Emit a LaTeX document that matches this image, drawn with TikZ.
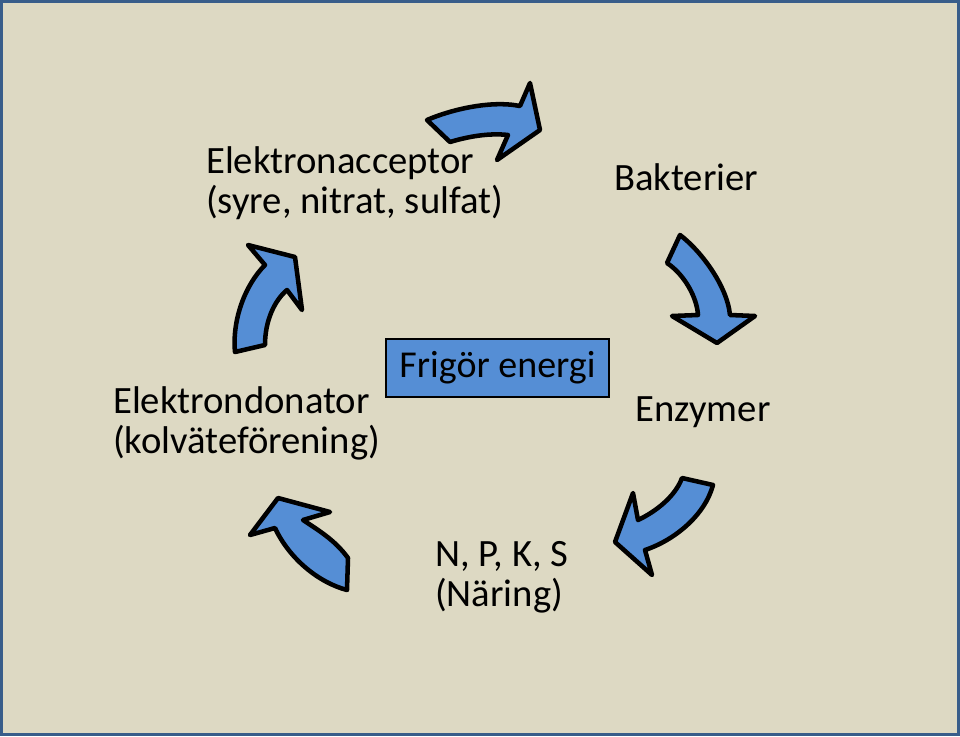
\documentclass[tikz,border=0pt]{standalone}
\usepackage{fontspec}
\setmainfont{Carlito}
\usetikzlibrary{positioning}
\definecolor{slidebg}{HTML}{DDD9C3}
\definecolor{slideframe}{HTML}{385D8A}
\definecolor{cycleblue}{HTML}{558ED5}

\begin{document}
\begin{tikzpicture}[x=0.75pt, y=-0.75pt,
        lbl/.style={align=left, inner sep=0pt, anchor=base west, font=\fontsize{29}{29.3}\selectfont},
        energybox/.style={draw, line width=1.5pt, fill=cycleblue, minimum width=167pt, minimum height=43.5pt, font=\fontsize{28.5}{29.3}\selectfont},
        cyclearrow/.style={draw, fill=cycleblue, line width=3.4pt, line join=round}]
        \useasboundingbox (0,0) rectangle (960,736);
        \draw[slideframe, fill=slidebg, line width=2.6pt] (1.75,1.75) rectangle (958.25,734.25);
        % labels round the cycle (base = last line)
        \node[lbl] (acceptor) at (206,213) {Elektronacceptor\\(syre, nitrat, sulfat)};
        \node[lbl] (bakterier) at (614,190) {Bakterier};
        \node[lbl] (enzymer) at (635,421) {Enzymer};
        \node[lbl] (naring) at (435,606) {N, P, K, S\\(Näring)};
        \node[lbl] (donator) at (113,453) {Elektrondonator\\(kolväteförening)};
        \node[energybox] (energi) at (497.5,368) {Frigör energi};
        % curved block arrows
        \draw[cyclearrow] (427,120) .. controls (450,110) and (490,100) .. (520,106) -- (530,83) -- (540,130)
            -- (497,160) -- (508,135) .. controls (490,133) and (470,136) .. (450,142) -- cycle;
        \draw[cyclearrow] (680,235) .. controls (700,250) and (727,285) .. (730,315) -- (755,316) -- (717,343)
            -- (672,316) -- (698,315) .. controls (697,298) and (685,275) .. (667,263) -- cycle;
        \draw[cyclearrow] (713,485) .. controls (705,515) and (675,540) .. (645,550) -- (652,575) -- (615,542)
            -- (633,493) -- (638,520) .. controls (655,512) and (675,497) .. (682,478) -- cycle;
        \draw[cyclearrow] (347,590) .. controls (320,583) and (290,560) .. (275,528) -- (250,535) -- (278,498)
            -- (330,512) -- (303,520) .. controls (318,530) and (335,540) .. (348,558) -- cycle;
        \draw[cyclearrow] (235,352) .. controls (232,320) and (245,285) .. (265,265) -- (248,245) -- (295,257)
            -- (302,310) -- (287,290) .. controls (275,300) and (265,320) .. (265,345) -- cycle;
\end{tikzpicture}
\end{document}
